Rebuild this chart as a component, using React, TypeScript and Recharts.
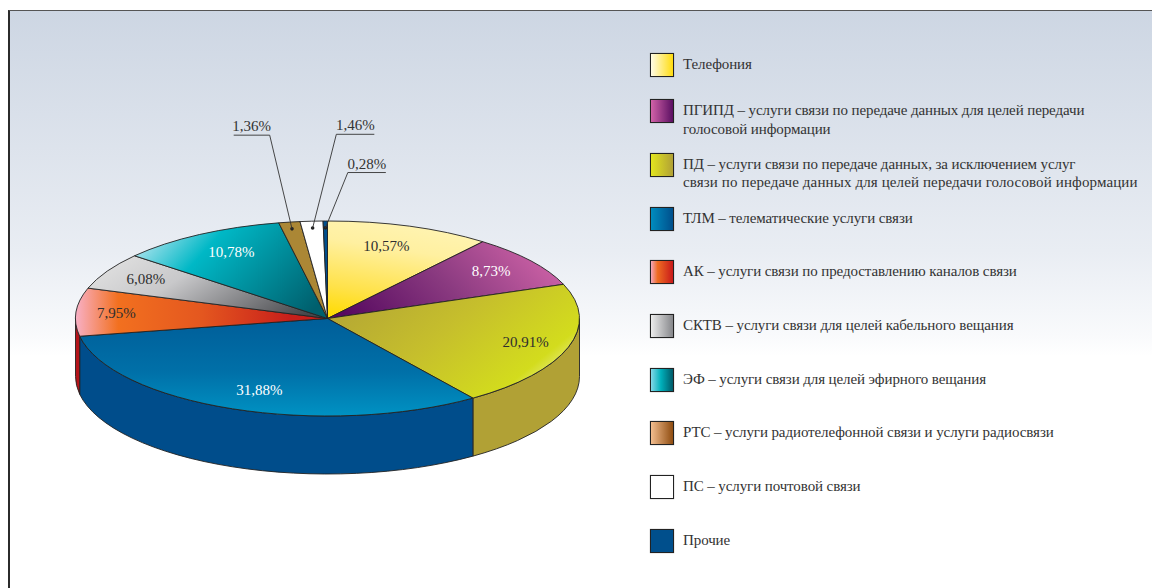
import { PieChart, Pie, Legend } from 'recharts';

const WIDTH = 1152;
const HEIGHT = 588;

const services = [
  'Телефония',
  'ПГИПД – услуги связи по передаче данных для целей передачи\nголосовой информации',
  'ПД – услуги связи по передаче данных, за исключением услуг\nсвязи по передаче данных для целей передачи голосовой информации',
  'ТЛМ – телематические услуги связи',
  'АК – услуги связи по предоставлению каналов связи',
  'СКТВ – услуги связи для целей кабельного вещания',
  'ЭФ – услуги связи для целей эфирного вещания',
  'РТС – услуги радиотелефонной связи и услуги радиосвязи',
  'ПС – услуги почтовой связи',
  'Прочие',
];
const shares = [10.57, 8.73, 20.91, 31.88, 7.95, 6.08, 10.78, 1.36, 1.46, 0.28];
const shareLabels = ['10,57%', '8,73%', '20,91%', '31,88%', '7,95%', '6,08%', '10,78%', '1,36%', '1,46%', '0,28%'];

const wallColors = ['#e8c400', '#5c0f62', '#b1a135', '#004d8b', '#b5141a', '#77787c', '#00636f', '#8f6f28', '#eeeeee', '#004f8c'];
const labelColors = ['#2e2e2e', '#ffffff', '#2e2e2e', '#ffffff', '#2e2e2e', '#2e2e2e', '#ffffff'];
const labelFractions = [0.79, 0.82, 0.81, 0.79, 0.84, 0.825, 0.79];
const labelNudges = [-6, -3, 3, 7, 0, 0, 5];
const swatches = [
  'linear-gradient(90deg,#fffce6,#ffdc10)',
  'linear-gradient(90deg,#d262a8,#5a0f62)',
  'linear-gradient(90deg,#e2e51f,#b1a135)',
  'linear-gradient(90deg,#008cbf,#004f8c)',
  'linear-gradient(90deg,#f4a5bb,#ee6c22 30%,#c8191a)',
  'linear-gradient(90deg,#ececec,#86878b)',
  'linear-gradient(90deg,#84d8e8,#00b0bb 45%,#005a68)',
  'linear-gradient(90deg,#f2bd8e,#8f4c10)',
  '#ffffff',
  '#004f8c',
];

// leader lines for the three thin slices: elbow offset from the dot, shelf length
const leaders: Record<number, { dx: number; dy: number; shelf: number }> = {
  7: { dx: -22.3, dy: -93.7, shelf: -36 },
  8: { dx: 23.7, dy: -93.7, shelf: 38 },
  9: { dx: 22.4, dy: -55.3, shelf: 38 },
};

const data = services.map((name, i) => ({ name, value: shares[i] }));

const CX = 327.5;
const CY = 318.5;
const RADIUS = 252;
const SQUASH = 97.5 / 252;
const DEPTH = 58;
const LEGEND_ROW = 53.7;
const LEGEND_FIRST_ROW = 46.3;
const FONT = '"Liberation Serif", serif';

const point = (cx: number, cy: number, r: number, deg: number) => {
  const a = (deg * Math.PI) / 180;
  return { x: cx + r * Math.cos(a), y: cy - r * SQUASH * Math.sin(a) };
};

const TopSlice = (props: any) => {
  const { cx, cy, outerRadius: r, startAngle, endAngle, index } = props;
  const p1 = point(cx, cy, r, startAngle);
  const p2 = point(cx, cy, r, endAngle);
  const large = startAngle - endAngle > 180 ? 1 : 0;
  return (
    <path
      d={`M${cx},${cy} L${p1.x},${p1.y} A${r},${r * SQUASH} 0 ${large} 1 ${p2.x},${p2.y} Z`}
      fill={`url(#slice${index})`}
      stroke="#222"
      strokeWidth={0.9}
      strokeLinejoin="round"
    />
  );
};

// only the front half of the disc shows a side wall
const WallSlice = (props: any) => {
  const { cx, cy, outerRadius: r, startAngle, endAngle, index } = props;
  const from = Math.min(startAngle, 0);
  const to = Math.max(endAngle, -180);
  if (from <= to) return <g />;
  const p1 = point(cx, cy, r, from);
  const p2 = point(cx, cy, r, to);
  const rx = r;
  const ry = r * SQUASH;
  return (
    <path
      d={`M${p1.x},${p1.y} A${rx},${ry} 0 0 1 ${p2.x},${p2.y} L${p2.x},${p2.y + DEPTH} A${rx},${ry} 0 0 0 ${p1.x},${p1.y + DEPTH} Z`}
      fill={wallColors[index]}
      stroke="#222"
      strokeWidth={0.9}
      strokeLinejoin="round"
    />
  );
};

const renderLabel = (props: any) => {
  const { cx, cy, outerRadius: r, midAngle, index } = props;
  const leader = leaders[index];
  if (leader) {
    const dot = point(cx, cy, r * 0.93, midAngle);
    const ex = dot.x + leader.dx;
    const ey = dot.y + leader.dy;
    return (
      <g key={index}>
        <circle cx={dot.x} cy={dot.y} r={1.8} fill="#222" />
        <polyline
          points={`${dot.x},${dot.y} ${ex},${ey} ${ex + leader.shelf},${ey}`}
          fill="none"
          stroke="#333"
          strokeWidth={0.9}
        />
        <text
          x={ex + leader.shelf / 2}
          y={ey - 4}
          textAnchor="middle"
          fontFamily={FONT}
          fontSize={15}
          fill="#333"
        >
          {shareLabels[index]}
        </text>
      </g>
    );
  }
  const pos = point(cx, cy, r * labelFractions[index], midAngle);
  return (
    <text
      key={index}
      x={pos.x + labelNudges[index]}
      y={pos.y + 5}
      textAnchor="middle"
      fontFamily={FONT}
      fontSize={15}
      fill={labelColors[index]}
    >
      {shareLabels[index]}
    </text>
  );
};

const renderLegend = (props: any) => {
  // the wall pie also reports its slices here, keep only the top pie's rows
  const rows = (props.payload || []).filter((item: any) => item.type !== 'none').slice(0, services.length);
  return (
    <div style={{ fontFamily: FONT, fontSize: 15, color: '#333', lineHeight: '18.5px' }}>
      {rows.map((item: any, i: number) => (
        <div key={item.value} style={{ position: 'relative', height: i === 0 ? LEGEND_FIRST_ROW : LEGEND_ROW, width: 500 }}>
          <div
            style={{
              position: 'absolute',
              left: 0,
              top: 0,
              width: 22,
              height: 22,
              border: '1px solid #222',
              background: swatches[i],
              boxShadow: '0 0 1px #888',
            }}
          />
          <div style={{ position: 'absolute', left: 33, top: 2, whiteSpace: 'pre', letterSpacing: '-0.1px' }}>
            {item.value.split('\n').map((line: string, n: number) => (
              <div key={n} style={line.length > 60 ? { letterSpacing: '0.12px' } : undefined}>
                {line}
              </div>
            ))}
          </div>
        </div>
      ))}
    </div>
  );
};

export default function App() {
  return (
    <div style={{ position: 'absolute', left: 0, top: 0, width: WIDTH, height: HEIGHT, background: '#fff', overflow: 'hidden' }}>
      <div
        style={{
          position: 'absolute',
          left: 8,
          top: 10,
          width: WIDTH - 8,
          height: HEIGHT - 10,
          boxSizing: 'border-box',
          borderLeft: '2px solid #2b2b2b',
          borderTop: '1.5px solid #555',
          background: 'linear-gradient(180deg,#cdd6e3 0px,#e9edf3 240px,#f9fafc 325px,#ffffff 345px)',
        }}
      />
      <div style={{ position: 'absolute', left: 0, top: 0 }}>
        <PieChart width={WIDTH} height={HEIGHT} margin={{ top: 0, right: 0, bottom: 0, left: 0 }}>
          <defs>
            <linearGradient id="slice0" x1="0.1" y1="1" x2="0.35" y2="0">
              <stop offset="0" stopColor="#ffdb00" />
              <stop offset="0.3" stopColor="#ffe24a" />
              <stop offset="0.75" stopColor="#fff0a0" />
              <stop offset="1" stopColor="#fff3b0" />
            </linearGradient>
            <linearGradient id="slice1" x1="0" y1="0.7" x2="1" y2="0.4">
              <stop offset="0" stopColor="#570a60" />
              <stop offset="0.5" stopColor="#8a3a80" />
              <stop offset="1" stopColor="#cd62a6" />
            </linearGradient>
            <linearGradient id="slice2" x1="0" y1="0.2" x2="1" y2="0.75">
              <stop offset="0" stopColor="#b3a535" />
              <stop offset="0.45" stopColor="#c6bf2c" />
              <stop offset="0.84" stopColor="#d3dc1d" />
              <stop offset="1" stopColor="#f0f2a8" />
            </linearGradient>
            <linearGradient id="slice3" x1="0" y1="0" x2="0" y2="1">
              <stop offset="0" stopColor="#005e99" />
              <stop offset="0.55" stopColor="#0070a8" />
              <stop offset="1" stopColor="#0092c3" />
            </linearGradient>
            <linearGradient id="slice4" x1="0" y1="0" x2="1" y2="0">
              <stop offset="0" stopColor="#f8b0c6" />
              <stop offset="0.17" stopColor="#f2701f" />
              <stop offset="0.5" stopColor="#e4571f" />
              <stop offset="0.85" stopColor="#c81f1b" />
              <stop offset="1" stopColor="#c41e1a" />
            </linearGradient>
            <linearGradient id="slice5" x1="0" y1="0.3" x2="1" y2="0.7">
              <stop offset="0" stopColor="#dfdfdf" />
              <stop offset="0.35" stopColor="#c8c8ca" />
              <stop offset="1" stopColor="#47484c" />
            </linearGradient>
            <linearGradient id="slice6" x1="0" y1="0.3" x2="1" y2="0.75">
              <stop offset="0" stopColor="#a6e2ec" />
              <stop offset="0.3" stopColor="#00b8c6" />
              <stop offset="1" stopColor="#005f6d" />
            </linearGradient>
            <linearGradient id="slice7" x1="0" y1="0" x2="1" y2="0">
              <stop offset="0" stopColor="#ab8735" />
              <stop offset="1" stopColor="#ab8735" />
            </linearGradient>
            <linearGradient id="slice8" x1="0" y1="0" x2="1" y2="0">
              <stop offset="0" stopColor="#ffffff" />
              <stop offset="1" stopColor="#ffffff" />
            </linearGradient>
            <linearGradient id="slice9" x1="0" y1="0" x2="1" y2="0">
              <stop offset="0" stopColor="#004f8c" />
              <stop offset="1" stopColor="#004f8c" />
            </linearGradient>
          </defs>
          <Pie
            data={data}
            dataKey="value"
            nameKey="name"
            cx={CX}
            cy={CY}
            innerRadius={0}
            outerRadius={RADIUS}
            startAngle={90}
            endAngle={-270}
            legendType="none"
            shape={WallSlice}
            isAnimationActive={false}
          />
          <Pie
            data={data}
            dataKey="value"
            nameKey="name"
            cx={CX}
            cy={CY}
            innerRadius={0}
            outerRadius={RADIUS}
            startAngle={90}
            endAngle={-270}
            shape={TopSlice}
            label={renderLabel}
            labelLine={false}
            isAnimationActive={false}
          />
          <Legend
            layout="vertical"
            align="right"
            verticalAlign="top"
            itemSorter={null}
            wrapperStyle={{ left: 650, right: 'auto', top: 53, width: 500 }}
            content={renderLegend}
          />
        </PieChart>
      </div>
    </div>
  );
}
